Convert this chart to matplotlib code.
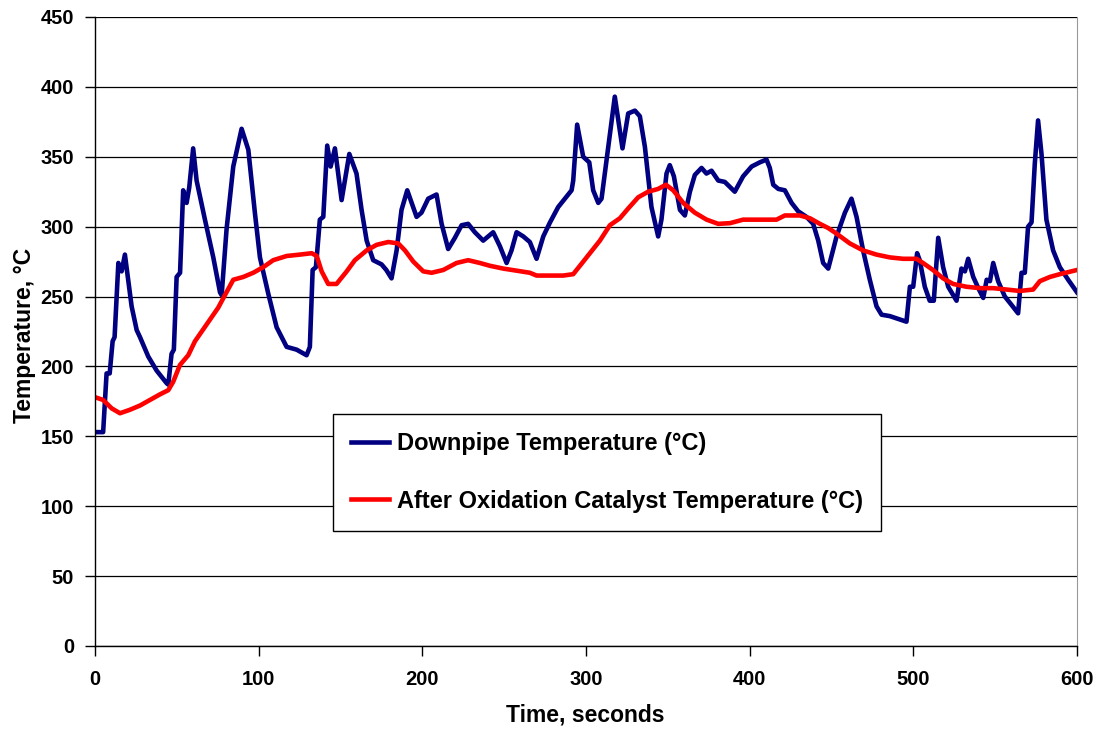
import matplotlib.pyplot as plt

plt.rcParams['font.family'] = ['Liberation Sans', 'DejaVu Sans']
plt.rcParams['font.weight'] = 'bold'

# --- Downpipe temperature ---
t_down = [0, 5, 7.1, 9, 10.8, 12, 14.3, 16.3, 18.3, 22.4, 25.5, 27.5, 32.6, 37.7,
          43.8, 44.8, 46.8, 48.2, 49.9, 52, 53.9, 56, 57.6, 60, 62.1, 67.2, 72.3,
          76.4, 77.4, 80.4, 84.5, 89.6, 93.7, 97.7, 100.8, 105.9, 111, 117.1,
          123.2, 129.3, 131.3, 133, 135, 137.4, 139.5, 141.9, 144, 146.6, 150.7,
          155.4, 159.8, 162.9, 166, 170, 175.1, 178, 181.2, 184.3, 187.3, 190.8,
          196.5, 199.5, 203.6, 208.7, 211.8, 215.8, 219.9, 224, 228, 232.1, 237.2,
          243.3, 247.4, 251.5, 254.5, 257.6, 261.7, 265.7, 269.8, 273.9, 278, 283,
          287.1, 291.2, 292.2, 294.6, 298.3, 302, 304.4, 307.5, 309.5, 312.6,
          317.6, 322.3, 325.8, 329.9, 332.9, 336, 340, 344.1, 346.1, 349.2, 351.2,
          353.7, 357.4, 360.4, 363.5, 366.5, 370.6, 373.6, 376.7, 380.8, 384.8,
          390.9, 396, 401.2, 406.2, 410.3, 412.3, 414.4, 417.5, 421.5, 425.6,
          429.6, 434.7, 438.8, 441.9, 444.9, 448, 453.1, 458.2, 462.2, 465.3,
          469.3, 473.4, 477.5, 480.6, 485.6, 490.7, 495.8, 497.9, 499.9, 502.3,
          503.9, 507, 510, 512.5, 515.2, 518.2, 521.3, 526.4, 529.4, 531.5, 533.5,
          536.6, 539.7, 542.7, 544.8, 546.8, 548.8, 551.8, 555.9, 560, 564, 566.1,
          568.1, 570.1, 572.2, 574.2, 576.2, 578.3, 581.3, 585.4, 589.5, 594.6,
          600]
downpipe = [153, 153, 195, 195, 218, 221, 274, 268, 280, 243, 226, 221, 207, 197,
            188, 187, 209, 212, 264, 267, 326, 317, 328, 356, 333, 305, 278,
            253, 251, 298, 343, 370, 355, 310, 278, 252, 228, 214,
            212, 208, 214, 269, 271, 305, 307, 358, 343, 356, 319,
            352, 338, 312, 290, 276, 273, 269, 263, 283, 312, 326,
            307, 310, 320, 323, 302, 284, 292, 301, 302, 296, 290,
            296, 286, 274, 283, 296, 293, 289, 277, 293, 303, 314,
            320, 326, 333, 373, 350, 346, 326, 317, 320, 348,
            393, 356, 381, 383, 379, 357, 314, 293, 305, 338, 344,
            336, 312, 308, 325, 337, 342, 338, 340, 333, 332,
            325, 336, 343, 346, 348, 342, 330, 327, 326, 317,
            311, 307, 302, 290, 274, 270, 293, 310, 320, 307,
            283, 262, 243, 237, 236, 234, 232, 257, 257, 281,
            276, 257, 247, 247, 292, 271, 257, 247, 270, 268, 277,
            264, 256, 249, 262, 261, 274, 261, 250, 244, 238, 267,
            267, 300, 303, 345, 376, 352, 305, 283, 271, 262,
            253]

# --- After oxidation catalyst temperature ---
t_cat = [0, 5, 10.2, 15.3, 21.4, 27.5, 33.6, 39.7, 44.8, 47.8, 51.9, 57, 61.1,
         68.2, 75.3, 79.4, 84.5, 90.6, 96.7, 102.8, 108.9, 117.1, 125.2, 132.4,
         135.5, 138.5, 142.5, 147.6, 153.8, 158.8, 166, 172.1, 179.2, 185.3,
         189.4, 194.5, 200.6, 205.7, 212.8, 220.9, 228, 235.2, 241.3, 249.4,
         257.6, 265.7, 269.8, 278, 286.1, 292.2, 296.3, 302.4, 308.5, 314.6,
         320.7, 325.8, 331.9, 338, 344.1, 348.8, 353.3, 359.4, 366.5, 373.7,
         380.8, 388, 396, 404.2, 412.3, 416.4, 421.5, 430.7, 436.8, 442.9, 448,
         453.1, 461.2, 469.3, 477.5, 485.6, 493.8, 501.9, 505.9, 512, 518.2,
         524.3, 532.4, 540.6, 548.8, 556.9, 565, 573.2, 577.3, 583.4, 589.5,
         600]
catalyst = [178, 176, 170, 166.5, 169, 172, 176, 180, 183, 189, 201, 208, 218,
            230, 242, 251, 262, 264, 267, 271, 276, 279, 280, 281,
            279, 268, 259, 259, 268, 276, 283, 287, 289, 288,
            283, 275, 268, 267, 269, 274, 276, 274, 272, 270,
            268.5, 267, 265, 265, 265, 266, 272, 281, 290, 301,
            306, 313, 321, 325, 327, 330, 326, 317, 310, 305,
            302, 302.5, 305, 305, 305, 305, 308, 308, 306, 302, 299,
            295, 288, 283, 280, 278, 277, 277, 274, 269, 263,
            259, 257, 256, 256, 255, 254, 255, 261, 264, 266,
            269]

fig = plt.figure(figsize=(10.99, 7.29), dpi=100)
ax = fig.add_axes([0.0864, 0.1139, 0.8936, 0.8628])

ax.plot(t_down, downpipe, color='#000080', lw=3.3, label='Downpipe Temperature (°C)',
        solid_joinstyle='round')
ax.plot(t_cat, catalyst, color='#ff0000', lw=3.3,
        label='After Oxidation Catalyst Temperature (°C)', solid_joinstyle='round')

ax.set_xlim(0, 600)
ax.set_ylim(0, 450)
ax.set_xticks(range(0, 601, 100))
ax.set_yticks(range(0, 451, 50))
ax.yaxis.grid(True, color='black', lw=0.9)
ax.set_axisbelow(True)

ax.spines['top'].set_visible(False)
ax.spines['right'].set_color('#999999')
ax.spines['left'].set_linewidth(1.0)
ax.spines['bottom'].set_linewidth(1.0)
ax.tick_params(direction='out', length=7, width=1, labelsize=14.5)
ax.tick_params(axis='x', pad=10)
ax.tick_params(axis='y', pad=8)
for lab in ax.get_xticklabels() + ax.get_yticklabels():
    lab.set_fontweight('bold')

ax.set_xlabel('Time, seconds', fontsize=16.5, fontweight='bold')
ax.set_ylabel('Temperature, °C', fontsize=16.5, fontweight='bold')
ax.xaxis.set_label_coords(0.499, -0.0922)
ax.yaxis.set_label_coords(-0.060, 0.493)

leg = ax.legend(loc='upper left', bbox_to_anchor=(0.242, 0.369), fontsize=17,
                frameon=True, fancybox=False, edgecolor='black', framealpha=1,
                handlelength=1.6, handletextpad=0.34, labelspacing=1.46,
                borderpad=0.78, borderaxespad=0)
leg.get_frame().set_linewidth(1.0)
for txt in leg.get_texts():
    txt.set_fontweight('bold')

fig.savefig('out.png', dpi=100)
